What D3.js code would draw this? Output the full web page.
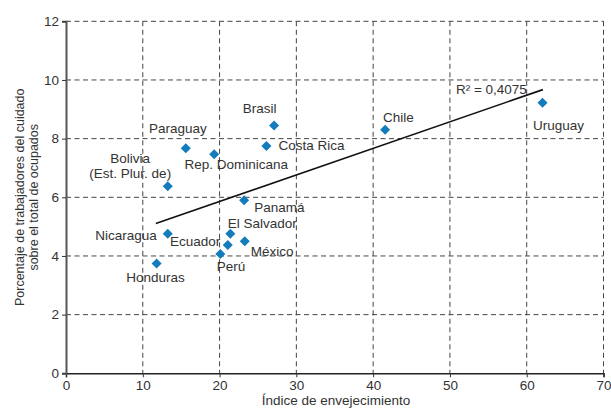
<!DOCTYPE html>
<html><head><meta charset="utf-8">
<script src="https://cdn.jsdelivr.net/npm/d3@7"></script>
<style>
body{margin:0;background:#fff;}
text{font-family:"Liberation Sans",Arial,sans-serif;}
</style></head>
<body><svg id="chart" width="611" height="409"></svg>
<script>
// ---- data ----
const countries = ["Bolivia\n(Est. Plur. de)","Paraguay","Rep. Dominicana","Costa Rica","Brasil","Panamá","Chile","Uruguay","Nicaragua","Ecuador","El Salvador","México","Perú","Honduras"];
const agingIndex = [13.25,15.6,19.3,26.1,27.1,23.2,41.56,62.06,13.25,21.07,21.4,23.28,20.1,11.8];
const careShare  = [6.38,7.67,7.47,7.75,8.45,5.9,8.3,9.22,4.76,4.37,4.76,4.5,4.07,3.74];
const xTicks = [0,10,20,30,40,50,60,70];
const yTicks = [0,2,4,6,8,10,12];
const r2Label = "R² = 0,4075";
const xTitle = "Índice de envejecimiento";
const yTitle = ["Porcentaje de trabajadores del cuidado","sobre el total de ocupados"];

// ---- layout (label placement relative to point, px) ----
const labelPlace = [
  {anchor:"middle",dx:-37.5,dy:-23},
  {anchor:"middle",dx:-8,dy:-15},
  {anchor:"middle",dx:22,dy:15},
  {anchor:"start",dx:12,dy:4},
  {anchor:"middle",dx:-14.5,dy:-12},
  {anchor:"start",dx:10,dy:12},
  {anchor:"start",dx:-2,dy:-8},
  {anchor:"middle",dx:16,dy:27},
  {anchor:"end",dx:-11,dy:6},
  {anchor:"end",dx:-7.5,dy:1},
  {anchor:"start",dx:-2.5,dy:-6},
  {anchor:"start",dx:6,dy:14.5},
  {anchor:"start",dx:-3.5,dy:17},
  {anchor:"middle",dx:-1,dy:18}
];

const FS = "13.5px";
const svg = d3.select("#chart");
const x = d3.scaleLinear().domain([0,70]).range([66,603.5]);
const y = d3.scaleLinear().domain([0,12]).range([373.3,21.3]);
const txt = "#333";

// grid
const grid = svg.append("g").attr("stroke","#444").attr("stroke-width",1).attr("stroke-dasharray","5,3.5").attr("fill","none");
xTicks.filter(d=>d>0).forEach(d=>{
  grid.append("line").attr("x1",x(d)).attr("x2",x(d)).attr("y1",y(12)).attr("y2",y(0));
});
yTicks.filter(d=>d>0).forEach(d=>{
  grid.append("line").attr("x1",x(0)).attr("x2",x(70)).attr("y1",y(d)).attr("y2",y(d));
});

// axes
const xAxis = d3.axisBottom(x).tickValues(xTicks).tickSize(4).tickPadding(3).tickFormat(d3.format("d"));
const yAxis = d3.axisLeft(y).tickValues(yTicks).tickSize(4).tickPadding(3).tickFormat(d3.format("d"));
const gx = svg.append("g").attr("transform",`translate(0,${y(0)})`).call(xAxis);
const gy = svg.append("g").attr("transform",`translate(${x(0)},0)`).call(yAxis);
gx.select(".domain").attr("stroke","#222").attr("stroke-width",1.5);
gy.select(".domain").attr("stroke","#555").attr("stroke-width",2);
[gx,gy].forEach(g=>{
  g.selectAll(".tick line").attr("stroke","#333");
  g.selectAll(".tick text").attr("fill",txt).style("font-size",FS).style("font-family","Liberation Sans, Arial, sans-serif");
});

// regression line computed from data
const n = agingIndex.length;
const mx = d3.mean(agingIndex), my = d3.mean(careShare);
let sxy=0,sxx=0;
for(let i=0;i<n;i++){sxy+=(agingIndex[i]-mx)*(careShare[i]-my);sxx+=(agingIndex[i]-mx)**2;}
const slope = sxy/sxx, icpt = my - slope*mx;
const x0 = d3.min(agingIndex)-0.1, x1 = d3.max(agingIndex)+0.05;
svg.append("line").attr("x1",x(x0)).attr("y1",y(icpt+slope*x0))
  .attr("x2",x(x1)).attr("y2",y(icpt+slope*x1))
  .attr("stroke","#111").attr("stroke-width",1.6);
svg.append("text").attr("x",x(x1)-87).attr("y",y(icpt+slope*x1)+4.5)
  .attr("fill",txt).style("font-size",FS).text(r2Label);

// points
const diamond = d3.symbol().type(d3.symbolDiamond2).size(64);
svg.append("g").selectAll("path").data(d3.range(n)).join("path")
  .attr("d",diamond)
  .attr("transform",i=>`translate(${x(agingIndex[i])},${y(careShare[i])})`)
  .attr("fill","#137cbd");

// labels
const lab = svg.append("g").attr("fill",txt).style("font-size",FS);
d3.range(n).forEach(i=>{
  const p = labelPlace[i];
  const lines = countries[i].split("\n");
  const t = lab.append("text").attr("text-anchor",p.anchor);
  lines.forEach((l,k)=>{
    t.append("tspan").attr("x",x(agingIndex[i])+p.dx).attr("y",y(careShare[i])+p.dy+k*14.5).text(l);
  });
});

// titles
svg.append("text").attr("x",336).attr("y",405).attr("text-anchor","middle")
  .attr("fill",txt).style("font-size",FS).text(xTitle);
yTitle.forEach((t,k)=>{
  svg.append("text").attr("transform",`translate(${24+k*13.5},${(y(0)+y(12))/2}) rotate(-90)`)
    .attr("text-anchor","middle").attr("fill",txt).style("font-size","12.5px").text(t);
});
</script></body></html>
